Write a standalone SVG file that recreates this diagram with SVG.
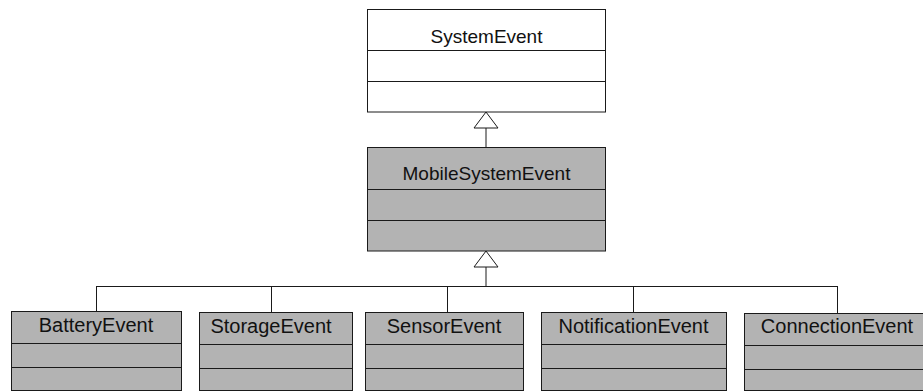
<svg xmlns="http://www.w3.org/2000/svg" width="923" height="392" viewBox="0 0 923 392">
<style>
.box{stroke:#1a1a1a;stroke-width:1}
.white{fill:#ffffff}
.gray{fill:#b3b3b3}
.div{stroke:#1a1a1a;stroke-width:1;fill:none}
.lbl{font-family:"Liberation Sans",Arial,sans-serif;fill:#111;text-anchor:middle}
.t19{font-size:19px}
.t20{font-size:20px}
.conn{stroke:#1a1a1a;stroke-width:1;fill:none}
.tri{stroke:#1a1a1a;stroke-width:1;fill:#ffffff}
</style>
<rect width="923" height="392" fill="#ffffff"/>
<g id="connectors">
<line class="conn" x1="486" y1="127" x2="486" y2="147.5"/>
<polygon class="tri" points="486,112 474,128 498,128"/>
<line class="conn" x1="486" y1="266" x2="486" y2="286.5"/>
<polygon class="tri" points="486,251 474,267 498,267"/>
<line class="conn" x1="96" y1="286.5" x2="838" y2="286.5"/>
<line class="conn" x1="96.5" y1="286.5" x2="96.5" y2="311.5"/>
<line class="conn" x1="271.5" y1="286.5" x2="271.5" y2="312.5"/>
<line class="conn" x1="447.5" y1="286.5" x2="447.5" y2="312.5"/>
<line class="conn" x1="633.5" y1="286.5" x2="633.5" y2="312.5"/>
<line class="conn" x1="837.5" y1="286.5" x2="837.5" y2="313.5"/>
</g>
<g id="SystemEvent">
<rect class="box white" x="367.5" y="9.5" width="238" height="102.5"/>
<line class="div" x1="367.5" y1="50.5" x2="605.5" y2="50.5"/>
<line class="div" x1="367.5" y1="81.5" x2="605.5" y2="81.5"/>
<text class="lbl t19" x="486.5" y="42.5">SystemEvent</text>
</g>
<g id="MobileSystemEvent">
<rect class="box gray" x="367.5" y="147.5" width="238" height="103.5"/>
<line class="div" x1="367.5" y1="189.5" x2="605.5" y2="189.5"/>
<line class="div" x1="367.5" y1="220.5" x2="605.5" y2="220.5"/>
<text class="lbl t19" x="486.5" y="180">MobileSystemEvent</text>
</g>
<g id="BatteryEvent">
<rect class="box gray" x="11.5" y="311.5" width="170" height="79"/>
<line class="div" x1="11.5" y1="343.5" x2="181.5" y2="343.5"/>
<line class="div" x1="11.5" y1="367.5" x2="181.5" y2="367.5"/>
<text class="lbl t20" x="96" y="332">BatteryEvent</text>
</g>
<g id="StorageEvent">
<rect class="box gray" x="199.5" y="312.5" width="153" height="78"/>
<line class="div" x1="199.5" y1="344.5" x2="352.5" y2="344.5"/>
<line class="div" x1="199.5" y1="368.5" x2="352.5" y2="368.5"/>
<text class="lbl t20" x="271" y="332.5">StorageEvent</text>
</g>
<g id="SensorEvent">
<rect class="box gray" x="365.5" y="312.5" width="158" height="78"/>
<line class="div" x1="365.5" y1="344.5" x2="523.5" y2="344.5"/>
<line class="div" x1="365.5" y1="368.5" x2="523.5" y2="368.5"/>
<text class="lbl t20" x="444" y="332.5">SensorEvent</text>
</g>
<g id="NotificationEvent">
<rect class="box gray" x="541.5" y="312.5" width="185" height="78"/>
<line class="div" x1="541.5" y1="344.5" x2="726.5" y2="344.5"/>
<line class="div" x1="541.5" y1="368.5" x2="726.5" y2="368.5"/>
<text class="lbl t20" x="633.5" y="332.5">NotificationEvent</text>
</g>
<g id="ConnectionEvent">
<rect class="box gray" x="744.5" y="313.5" width="186" height="77"/>
<line class="div" x1="744.5" y1="345.5" x2="930.5" y2="345.5"/>
<line class="div" x1="744.5" y1="369.5" x2="930.5" y2="369.5"/>
<text class="lbl t20" x="837" y="333">ConnectionEvent</text>
</g>
</svg>
